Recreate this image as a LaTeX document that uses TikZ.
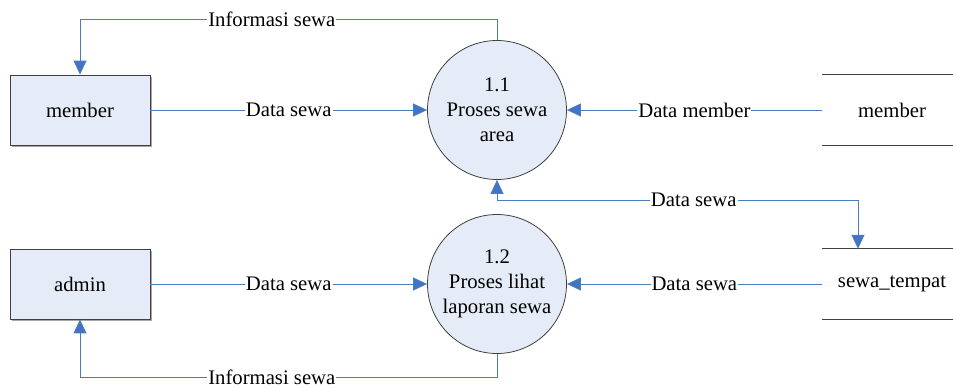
\documentclass[tikz,border=0pt]{standalone}
\usepackage{fontspec}
\setmainfont{Liberation Serif}
\usetikzlibrary{arrows.meta,calc}
\definecolor{flowblue}{HTML}{4A7EBB}
\definecolor{tipblue}{HTML}{4472C4}
\definecolor{shapefill}{HTML}{E6ECF7}
\definecolor{edgegray}{HTML}{404040}
\begin{document}
\begin{tikzpicture}[x=1pt,y=-1pt,
  every node/.style={font=\fontsize{20.7}{25}\selectfont},
  extent/.style={draw=edgegray,line width=0.8pt,fill=shapefill,minimum width=140pt,minimum height=70pt,inner sep=0pt},
  extshadow/.style={fill=gray!70,minimum width=140pt,minimum height=70pt,inner sep=0pt},
  proc/.style={circle,draw=edgegray,line width=0.8pt,fill=shapefill,minimum size=139pt,inner sep=0pt,align=center},
  store/.style={minimum width=140pt,minimum height=70pt,inner sep=0pt},
  storeline/.style={draw=edgegray,line width=1pt},
  flow/.style={draw=flowblue,line width=1pt,-{Triangle[length=14pt,width=13pt,fill=tipblue]}},
  flowboth/.style={draw=flowblue,line width=1pt,{Triangle[length=14pt,width=13pt,fill=tipblue]}-{Triangle[length=14pt,width=13pt,fill=tipblue]}},
  lbl/.style={fill=white,inner sep=1pt}
]
\useasboundingbox (0,0) rectangle (953,388);
\fill[white] (0,0) rectangle (953,388);

% external entities (with a thin drop shadow)
\node[extshadow] at (82,112) {};
\node[extent] (m1) at (80,110) {member};
\node[extshadow] at (82,286) {};
\node[extent] (m2) at (80,284) {admin};

% processes
\node[proc] (p1) at (497,110) {1.1\\Proses sewa\\area};
\node[proc] (p2) at (497,284) {1.2\\Proses lihat\\laporan sewa};

% data stores (open-ended: top and bottom lines only)
\node[store] (s1) at (892,110) {member};
\node[store] (s2) at (892,284) {sewa\_tempat};
\draw[storeline] (s1.north west) -- (s1.north east);
\draw[storeline] (s1.south west) -- (s1.south east);
\draw[storeline] (s2.north west) -- (s2.north east);
\draw[storeline] (s2.south west) -- (s2.south east);

% routing corners
\coordinate (t1) at (497,19);
\coordinate (t2) at (80,19);
\coordinate (b1) at (497,377);
\coordinate (b2) at (80,377);
\coordinate (d1) at (497,200);
\coordinate (d2) at (858,200);

% data flows
\draw[flow] (m1) -- node[lbl]{Data sewa} (p1);
\draw[flow] (s1.west) -- node[lbl]{Data member} (p1);
\draw[flow] (p1.north) -- (t1) -- node[lbl,pos=0.54]{Informasi sewa} (t2) -- (m1.north);
\draw[flowboth] (p1.south) -- (d1) -- node[lbl,pos=0.545]{Data sewa} (d2) -- (d2 |- s2.north);
\draw[flow] (m2) -- node[lbl]{Data sewa} (p2);
\draw[flow] (s2.west) -- node[lbl]{Data sewa} (p2);
\draw[flow] (p2.south) -- (b1) -- node[lbl,pos=0.54]{Informasi sewa} (b2) -- (m2.south);
\end{tikzpicture}
\end{document}
